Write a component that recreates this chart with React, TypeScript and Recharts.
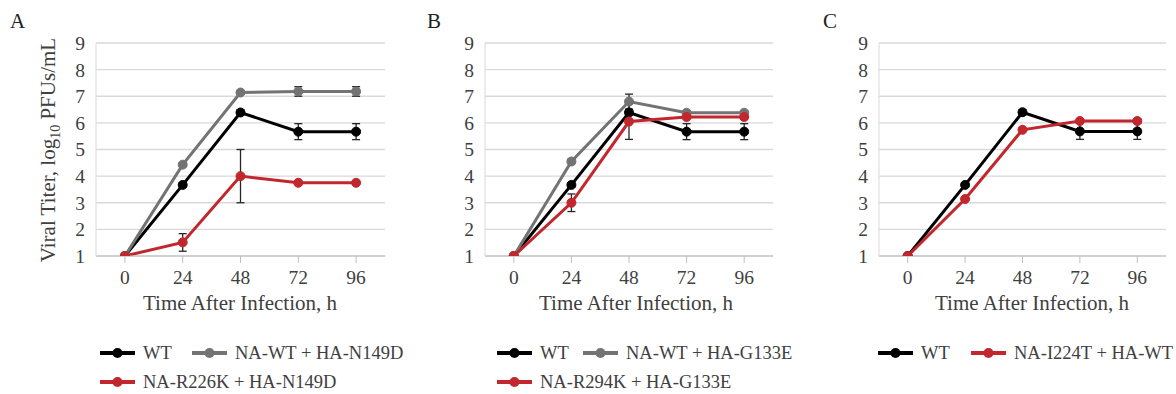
import { LineChart, Line, XAxis, YAxis, CartesianGrid, ErrorBar } from "recharts";

// time points (hours post infection)
const hours = ["0", "24", "48", "72", "96"];
const yTicks = [1, 2, 3, 4, 5, 6, 7, 8, 9];

// WT virus, shared by all three panels
const wtTiter = [1, 3.67, 6.39, 5.67, 5.67];
const wtErr = [0, 0.08, 0.1, 0.3, 0.3];

// panel A
const aNaWtTiter = [1, 4.43, 7.14, 7.18, 7.18];
const aNaWtErr = [0, 0.06, 0.05, 0.18, 0.18];
const aR226kTiter = [1, 1.51, 4.0, 3.75, 3.75];
const aR226kErr = [0, 0.33, 1.0, 0.05, 0.05];

// panel B
const bNaWtTiter = [1, 4.55, 6.8, 6.38, 6.38];
const bNaWtErr = [0, 0.08, 0.28, 0.05, 0.05];
const bR294kTiter = [1, 3.0, 6.05, 6.22, 6.22];
const bR294kErr = [0, 0.33, 0.67, 0.05, 0.05];

// panel C
const cWtTiter = [1, 3.67, 6.4, 5.68, 5.68];
const cI224tTiter = [1, 3.14, 5.74, 6.07, 6.07];
const cI224tErr = [0, 0.05, 0.05, 0.08, 0.08];

const FONT = "'Liberation Serif', serif";
const TEXT = "#404040";
const BLACK = "#000000";
const GRAY = "#737373";
const RED = "#c1272d";

interface Series {
  name: string;
  color: string;
  values: number[];
  errors: number[];
}

interface PanelProps {
  left: number;
  width: number;
  yAxisWidth: number;
  rightMargin: number;
  series: Series[];
}

function Panel({ left, width, yAxisWidth, rightMargin, series }: PanelProps) {
  const data = hours.map((h, i) => {
    const row: Record<string, string | number> = { hour: h };
    series.forEach((s, k) => {
      row[`v${k}`] = s.values[i];
      row[`e${k}`] = s.errors[i];
    });
    return row;
  });
  // half a category on each side, like Excel's "between tick marks"
  const pad = (width - yAxisWidth - rightMargin) / 10;

  return (
    <div style={{ position: "absolute", left, top: 0, width, height: 320 }}>
      <LineChart
        width={width}
        height={320}
        data={data}
        margin={{ top: 43, right: rightMargin, bottom: 4, left: 0 }}
      >
        <CartesianGrid vertical={false} stroke="#d9d9d9" strokeWidth={1.3} />
        <XAxis
          dataKey="hour"
          height={60}
          interval={0}
          padding={{ left: pad, right: pad }}
          stroke="#bfbfbf"
          tickSize={7}
          tickMargin={7}
          tick={{ fill: TEXT, fontSize: 19.5, fontFamily: FONT }}
        />
        <YAxis
          type="number"
          width={yAxisWidth}
          domain={[1, 9]}
          ticks={yTicks}
          interval={0}
          allowDataOverflow
          stroke="#d9d9d9"
          tickLine={false}
          tickSize={0}
          tickMargin={11}
          tick={{ fill: TEXT, fontSize: 19.5, fontFamily: FONT }}
        />
        {series.map((s, k) => (
          <Line
            key={s.name}
            dataKey={`v${k}`}
            name={s.name}
            stroke={s.color}
            strokeWidth={3}
            dot={{ r: 4.5, fill: s.color, stroke: s.color, strokeWidth: 1 }}
            isAnimationActive={false}
          >
            <ErrorBar
              dataKey={`e${k}`}
              direction="y"
              width={4}
              stroke="#262626"
              strokeWidth={1.3}
            />
          </Line>
        ))}
      </LineChart>
    </div>
  );
}

function LegendItem({ x, y, color, label }: { x: number; y: number; color: string; label: string }) {
  return (
    <g>
      <line x1={x} y1={y} x2={x + 35} y2={y} stroke={color} strokeWidth={4} />
      <circle cx={x + 17.5} cy={y} r={5} fill={color} />
      <text x={x + 43} y={y + 6} fontSize={18.5} fontFamily={FONT} fill={TEXT}>
        {label}
      </text>
    </g>
  );
}

export default function App() {
  const panelA: Series[] = [
    { name: "WT", color: BLACK, values: wtTiter, errors: wtErr },
    { name: "NA-WT + HA-N149D", color: GRAY, values: aNaWtTiter, errors: aNaWtErr },
    { name: "NA-R226K + HA-N149D", color: RED, values: aR226kTiter, errors: aR226kErr },
  ];
  const panelB: Series[] = [
    { name: "WT", color: BLACK, values: wtTiter, errors: wtErr },
    { name: "NA-WT + HA-G133E", color: GRAY, values: bNaWtTiter, errors: bNaWtErr },
    { name: "NA-R294K + HA-G133E", color: RED, values: bR294kTiter, errors: bR294kErr },
  ];
  const panelC: Series[] = [
    { name: "WT", color: BLACK, values: cWtTiter, errors: wtErr },
    { name: "NA-I224T + HA-WT", color: RED, values: cI224tTiter, errors: cI224tErr },
  ];

  return (
    <div
      style={{
        position: "absolute",
        left: 0,
        top: 0,
        width: 1176,
        height: 394,
        background: "#fff",
        fontFamily: FONT,
      }}
    >
      <Panel left={0} width={400} yAxisWidth={96} rightMargin={15} series={panelA} />
      <Panel left={400} width={390} yAxisWidth={85} rightMargin={17} series={panelB} />
      <Panel left={790} width={386} yAxisWidth={89} rightMargin={10} series={panelC} />

      <svg
        width={1176}
        height={394}
        style={{ position: "absolute", left: 0, top: 0, pointerEvents: "none" }}
      >
        {/* panel letters */}
        <text x={10} y={28} fontSize={21} fontFamily={FONT} fill="#222">A</text>
        <text x={427} y={28} fontSize={21} fontFamily={FONT} fill="#222">B</text>
        <text x={823} y={28} fontSize={21} fontFamily={FONT} fill="#222">C</text>

        {/* axis titles */}
        <text x={240} y={310} textAnchor="middle" fontSize={21} fontFamily={FONT} fill={TEXT}>
          Time After Infection, h
        </text>
        <text x={636} y={310} textAnchor="middle" fontSize={21} fontFamily={FONT} fill={TEXT}>
          Time After Infection, h
        </text>
        <text x={1032} y={310} textAnchor="middle" fontSize={21} fontFamily={FONT} fill={TEXT}>
          Time After Infection, h
        </text>
        <text
          transform="translate(55,150) rotate(-90)"
          textAnchor="middle"
          fontSize={21}
          fontFamily={FONT}
          fill={TEXT}
        >
          Viral Titer, log
          <tspan fontSize={14} dy={5}>10</tspan>
          <tspan dy={-5}> PFUs/mL</tspan>
        </text>

        {/* legends */}
        <LegendItem x={100} y={353} color={BLACK} label="WT" />
        <LegendItem x={192} y={353} color={GRAY} label="NA-WT + HA-N149D" />
        <LegendItem x={100} y={382} color={RED} label="NA-R226K + HA-N149D" />

        <LegendItem x={497} y={353} color={BLACK} label="WT" />
        <LegendItem x={583} y={353} color={GRAY} label="NA-WT + HA-G133E" />
        <LegendItem x={497} y={382} color={RED} label="NA-R294K + HA-G133E" />

        <LegendItem x={878} y={353} color={BLACK} label="WT" />
        <LegendItem x={971} y={353} color={RED} label="NA-I224T + HA-WT" />
      </svg>
    </div>
  );
}
